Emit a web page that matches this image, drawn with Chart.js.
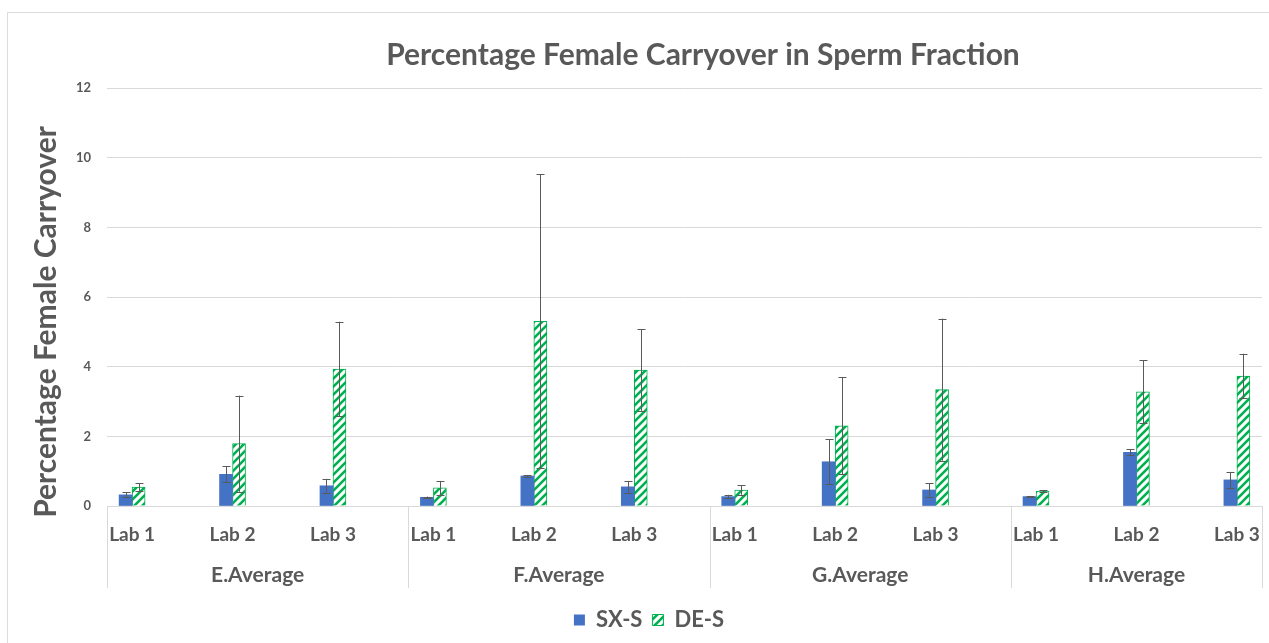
<!DOCTYPE html>
<html><head><meta charset="utf-8">
<script src="https://cdn.jsdelivr.net/npm/chart.js@4.4.1/dist/chart.umd.min.js"></script>
<style>
html,body{margin:0;padding:0;background:#fff;overflow:hidden;width:1269px;height:643px;}
#frame{position:absolute;left:7px;top:12px;width:1400px;height:700px;border:1px solid #dcdcdc;box-sizing:border-box;}
#c{position:absolute;left:0;top:0;}
</style></head><body>
<div id="frame"></div>
<canvas id="c" width="1269" height="643"></canvas>
<script>
const chartTitle = 'Percentage Female Carryover in Sperm Fraction';
const yTitle = 'Percentage Female Carryover';
const categories = ['Lab 1','Lab 2','Lab 3','Lab 1','Lab 2','Lab 3','Lab 1','Lab 2','Lab 3','Lab 1','Lab 2','Lab 3'];
const groups = ['E.Average','F.Average','G.Average','H.Average'];
const seriesNames = ['SX-S','DE-S'];
const sxS   = [0.32, 0.91, 0.58, 0.25, 0.86, 0.55, 0.27, 1.27, 0.46, 0.27, 1.54, 0.75];
const sxErr = [0.07, 0.23, 0.20, 0.02, 0.03, 0.17, 0.05, 0.64, 0.19, 0.02, 0.09, 0.23];
const deS   = [0.54, 1.79, 3.93, 0.52, 5.30, 3.90, 0.46, 2.30, 3.34, 0.43, 3.28, 3.73];
const deErr = [0.12, 1.38, 1.36, 0.20, 4.22, 1.17, 0.14, 1.39, 2.04, 0.03, 0.91, 0.64];
const yTicks = [0, 2, 4, 6, 8, 10, 12];

const FONT = 'Lato';
const TXT = '#595959';
const GRID = '#d9d9d9';
const X_EDGE = 0.25;           // axis extends 1/4 category beyond first/last label
const X_MIN = -X_EDGE, X_MAX = categories.length - 1 + X_EDGE;
const perGroup = categories.length / groups.length;
const dividers = [];
for (let i = 0; i <= groups.length; i++) dividers.push(Math.min(i * perGroup - X_EDGE, X_MAX));
const groupCenters = groups.map((g, i) => (dividers[i] + dividers[i + 1]) / 2);

const ctx = document.getElementById('c').getContext('2d');
function hatch() {
  const t = document.createElement('canvas'); t.width = 8; t.height = 8;
  const g = t.getContext('2d');
  g.fillStyle = '#ffffff'; g.fillRect(0, 0, 8, 8);
  g.strokeStyle = '#00B050'; g.lineWidth = 2.6; g.beginPath();
  g.moveTo(-2, 10); g.lineTo(10, -2);
  g.moveTo(-2, 2); g.lineTo(2, -2);
  g.moveTo(6, 10); g.lineTo(10, 6);
  g.stroke();
  return ctx.createPattern(t, 'repeat');
}

const errorBars = {
  id: 'errorBars',
  afterDatasetsDraw(chart) {
    const c = chart.ctx, ys = chart.scales.y;
    c.save(); c.strokeStyle = '#5a5a5a'; c.lineWidth = 1;
    chart.data.datasets.forEach((ds, di) => {
      const meta = chart.getDatasetMeta(di);
      meta.data.forEach((bar, i) => {
        const v = ds.data[i].y, e = ds.errors[i];
        const x = Math.round(bar.x) + 0.5;
        const y1 = ys.getPixelForValue(v + e), y2 = ys.getPixelForValue(v - e);
        c.beginPath();
        c.moveTo(x, y1); c.lineTo(x, y2);
        c.moveTo(x - 4, Math.round(y1) + 0.5); c.lineTo(x + 4, Math.round(y1) + 0.5);
        c.moveTo(x - 4, Math.round(y2) + 0.5); c.lineTo(x + 4, Math.round(y2) + 0.5);
        c.stroke();
      });
    });
    c.restore();
  }
};

const extras = {
  id: 'extras',
  afterDraw(chart) {
    const c = chart.ctx, xs = chart.scales.x, gs = chart.scales.g, ca = chart.chartArea;
    c.save();
    c.strokeStyle = GRID; c.lineWidth = 1; c.beginPath();
    dividers.forEach(d => {
      const px = Math.round(xs.getPixelForValue(d)) + 0.5;
      c.moveTo(px, ca.bottom); c.lineTo(px, gs.bottom - 11);
    });
    c.stroke();
    c.fillStyle = TXT; c.textAlign = 'center'; c.textBaseline = 'middle';
    c.font = 'bold 30px ' + FONT;
    c.fillText(chartTitle, 703, 55);
    c.translate(46, 322); c.rotate(-Math.PI / 2);
    c.font = 'bold 30px ' + FONT;
    c.fillText(yTitle, 0, 0);
    c.restore();
  }
};

new Chart(ctx, {
  type: 'bar',
  data: {
    datasets: [
      { label: seriesNames[0], xAxisID: 'x', yAxisID: 'y', data: sxS.map((v, i) => ({x: i, y: v})), errors: sxErr,
        backgroundColor: '#4472C4', borderWidth: 0, barThickness: 13 },
      { label: seriesNames[1], xAxisID: 'x', yAxisID: 'y', data: deS.map((v, i) => ({x: i, y: v})), errors: deErr,
        backgroundColor: hatch(), borderColor: '#00B050', borderWidth: 1, barThickness: 13 }
    ]
  },
  options: {
    responsive: false, animation: false,
    layout: { padding: { left: 36, right: 7, top: 88, bottom: 2 } },
    plugins: {
      tooltip: { enabled: false },
      title: { display: false },
      legend: { position: 'bottom',
        labels: { color: TXT, font: { family: FONT, size: 22, weight: 'bold' }, boxWidth: 11, boxHeight: 11, padding: 10 } }
    },
    scales: {
      x: { type: 'linear', position: 'bottom', min: X_MIN, max: X_MAX, bounds: 'data', offset: false,
        grid: { display: false, drawTicks: true, tickLength: 17, offset: false }, border: { display: false },
        afterBuildTicks: s => { s.ticks = categories.map((_, i) => ({ value: i })); },
        afterFit: s => { s.height = 42; },
        ticks: { autoSkip: false, maxRotation: 0, padding: 0, color: TXT,
          font: { family: FONT, size: 19, weight: 'bold', lineHeight: 1.2 },
          callback: (v, i) => categories[i] } },
      g: { type: 'linear', position: 'bottom', min: X_MIN, max: X_MAX, bounds: 'data', offset: false,
        grid: { display: false, drawTicks: true, tickLength: 15, offset: false }, border: { display: false },
        afterBuildTicks: s => { s.ticks = groupCenters.map(v => ({ value: v })); },
        afterFit: s => { s.height = 51; },
        ticks: { autoSkip: false, maxRotation: 0, padding: 0, color: TXT,
          font: { family: FONT, size: 21, weight: 'bold', lineHeight: 1.2 },
          callback: (v, i) => groups[i] } },
      y: { min: 0, max: 12,
        afterBuildTicks: s => { s.ticks = yTicks.map(v => ({ value: v })); },
        afterFit: s => { s.width = 71; },
        grid: { color: GRID, drawTicks: false }, border: { display: false },
        ticks: { padding: 16, color: TXT, font: { family: FONT, size: 13, weight: 'bold' } } }
    }
  },
  plugins: [errorBars, extras]
});
</script>
</body></html>
